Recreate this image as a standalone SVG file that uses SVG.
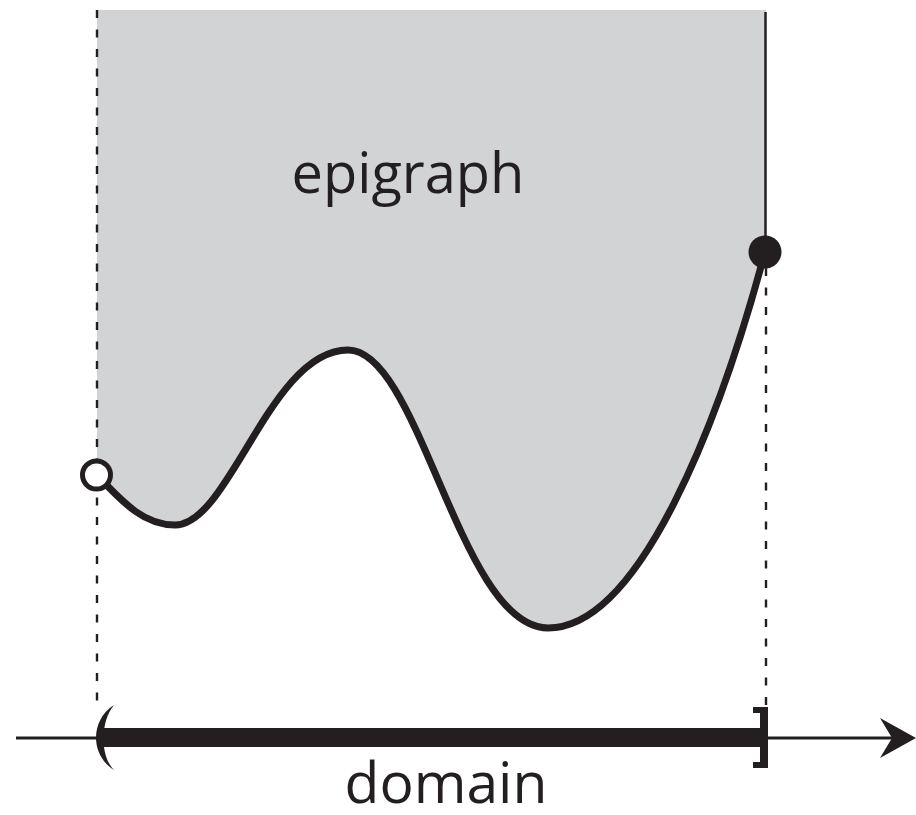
<svg xmlns="http://www.w3.org/2000/svg" width="916" height="815" viewBox="0 0 916 815">
<style>
.ink{fill:#231f20}
.curve{fill:none;stroke:#231f20;stroke-width:7;stroke-linecap:round}
.dash{fill:none;stroke:#231f20;stroke-width:2.4;stroke-dasharray:8 11.5}
.lbl{font-family:"Open Sans","Liberation Sans",sans-serif;fill:#231f20;text-anchor:middle}
</style>
<rect width="916" height="815" fill="#ffffff"/>
<g id="epigraph-region">
<path d="M97,10 L766,10 L766,252 C720,420 640,628 548,628 C460,628 420,350 348,350 C270,350 230,525 175,525 C145,525 125,505 97,475 Z" fill="#d1d3d4"/>
<text class="lbl" x="408" y="193" font-size="56">epigraph</text>
</g>
<g id="connectors">
<line class="dash" x1="97" y1="10" x2="97" y2="712"/>
<line class="dash" x1="766" y1="268" x2="766" y2="712"/>
<line x1="765.5" y1="12" x2="765.5" y2="252" stroke="#231f20" stroke-width="2.5"/>
</g>
<g id="function-curve">
<path class="curve" d="M97,475 C125,505 145,525 175,525 C230,525 270,350 348,350 C420,350 460,628 548,628 C640,628 720,420 765,252"/>
</g>
<g id="open-endpoint">
<circle cx="96.5" cy="475" r="14" fill="#ffffff" stroke="#231f20" stroke-width="5"/>
</g>
<g id="closed-endpoint">
<circle cx="765" cy="252" r="16.5" class="ink"/>
</g>
<g id="axis">
<line x1="16" y1="738" x2="895" y2="738" stroke="#231f20" stroke-width="3"/>
<path class="ink" d="M916,738 L880,718 L892,738 L880,758 Z"/>
</g>
<g id="domain">
<rect class="ink" x="103" y="728" width="657" height="19"/>
<path class="ink" d="M114,705 C90,720 90,755 114,770 C100,756 100,722 114,705 Z"/>
<path class="ink" d="M753,707 L768,707 L768,768 L753,768 L753,762 L760,762 L760,713 L753,713 Z"/>
<text class="lbl" x="446" y="803" font-size="57">domain</text>
</g>
</svg>
